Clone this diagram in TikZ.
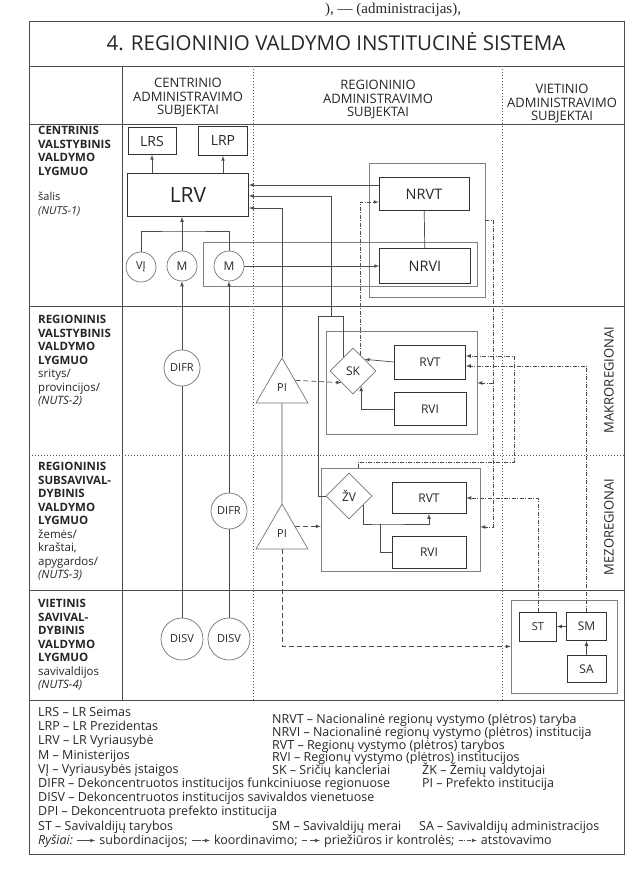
\documentclass[tikz,border=0pt]{standalone}
\usepackage{fontspec}
\setmainfont{Open Sans}
\newfontfamily\pagefont{Liberation Serif}
\usetikzlibrary{calc,positioning,shapes.geometric}

\begin{document}
\begin{tikzpicture}[
  x=1pt, y=-1pt,
  every node/.style={inner sep=1pt, text=black!85},
  frm/.style={draw=black!70, line width=0.8pt},
  conn/.style={draw=black!70, line width=0.7pt},
  subord/.style={conn, -latex},
  coord/.style={conn, dash pattern=on 9pt off 1.5pt, -latex},
  superv/.style={conn, dash pattern=on 5pt off 3pt, -latex},
  repres/.style={conn, dash pattern=on 4pt off 1.5pt on 1pt off 1.5pt, -latex},
  colsep/.style={draw=black!65, line width=0.8pt, dash pattern=on 0.8pt off 2.2pt},
  inst/.style={draw=black!80, line width=0.7pt, inner sep=0pt, font=\fontsize{12}{12}\selectfont},
  grp/.style={draw=black!50, line width=0.7pt, inner sep=0pt},
  circ/.style={circle, draw=black!55, line width=0.7pt, inner sep=0pt, font=\fontsize{11}{11}\selectfont},
  kite/.style={diamond, draw=black!55, line width=0.7pt, inner sep=0pt, minimum width=46pt, minimum height=46pt, font=\fontsize{12}{12}\selectfont},
  pref/.style={regular polygon, regular polygon sides=3, draw=black!55, line width=0.7pt, inner sep=0pt, minimum size=60pt, font=\fontsize{11}{11}\selectfont},
  lvl/.style={align=left, anchor=north west, font=\bfseries\fontsize{11.5}{13.5}\selectfont},
  hdr/.style={align=center, font=\fontsize{13}{13.5}\selectfont},
  leg/.style={anchor=base west, font=\fontsize{12.5}{14}\selectfont},
  rysleg/.style={anchor=base west, font=\fontsize{12.5}{14}\selectfont}
]
\useasboundingbox (0,0) rectangle (630,869);
\node[anchor=base west, font=\pagefont\fontsize{15}{15}\selectfont] (pagetxt) at (324,14) {), — (administracijas),};

% frame and table
\draw[frm] (29,21) rectangle (624,854);
\draw[frm] (29,66) -- (624,66);
\draw[frm] (29,124) -- (624,124);
\draw[frm] (122,66) -- (122,700);
\draw[frm] (29,306) -- (624,306);
\draw[colsep] (29,455) -- (624,455);
\draw[frm] (29,590) -- (624,590);
\draw[frm] (29,700) -- (624,700);
\draw[colsep] (253,66) -- (253,700);
\draw[colsep] (502,66) -- (502,700);

\node[font=\fontsize{20.5}{20.5}\selectfont] (title) at (336,42) {4. REGIONINIO VALDYMO INSTITUCINĖ SISTEMA};
\node[hdr] (hcent) at (188,98) {CENTRINIO\\ADMINISTRAVIMO\\SUBJEKTAI};
\node[hdr] (hreg) at (378,100) {REGIONINIO\\ADMINISTRAVIMO\\SUBJEKTAI};
\node[hdr] (hviet) at (562,104) {VIETINIO\\ADMINISTRAVIMO\\SUBJEKTAI};

\node[lvl] (lvl1) at (37,125) {CENTRINIS\\VALSTYBINIS\\VALDYMO\\LYGMUO};
\node[lvl, font=\fontsize{11}{13.5}\selectfont] (nuts1) at (37,191) {šalis\\\textit{(NUTS-1)}};
\node[lvl] (lvl2) at (37,314) {REGIONINIS\\VALSTYBINIS\\VALDYMO\\LYGMUO\\\textmd{sritys/}\\\textmd{provincijos/}\\\textmd{\textit{(NUTS-2)}}};
\node[lvl] (lvl3) at (37,461) {REGIONINIS\\SUBSAVIVAL-\\DYBINIS\\VALDYMO\\LYGMUO\\\textmd{žemės/}\\\textmd{kraštai,}\\\textmd{apygardos/}\\\textmd{\textit{(NUTS-3)}}};
\node[lvl] (lvl4) at (37,598) {VIETINIS\\SAVIVAL-\\DYBINIS\\VALDYMO\\LYGMUO\\\textmd{savivaldijos}\\\textmd{\textit{(NUTS-4)}}};

\node[rotate=90, font=\fontsize{13}{13}\selectfont] (makro) at (609,380) {MAKROREGIONAI};
\node[rotate=90, font=\fontsize{13}{13}\selectfont] (mezo) at (609,527) {MEZOREGIONAI};

% group boxes
\node[grp, minimum width=116pt, minimum height=134pt] (gnrv) at (427,230) {};
\node[grp, minimum width=274pt, minimum height=44pt] (gmin) at (340,264) {};
\node[grp, minimum width=151pt, minimum height=103pt] (gsk) at (401.5,382.5) {};
\node[grp, minimum width=159pt, minimum height=103pt] (gzv) at (400.5,519.5) {};
\node[grp, minimum width=106pt, minimum height=93pt] (gloc) at (564,646.5) {};

% institutions
\node[inst, minimum width=48pt, minimum height=27pt, font=\fontsize{14}{14}\selectfont] (lrs) at (152,141) {LRS};
\node[inst, minimum width=49pt, minimum height=29pt, font=\fontsize{14}{14}\selectfont] (lrp) at (223,141) {LRP};
\node[inst, minimum width=121pt, minimum height=43pt, font=\fontsize{21}{21}\selectfont] (lrv) at (188,195) {LRV};
\node[circ, minimum size=30pt] (vi) at (141,267) {VĮ};
\node[circ, minimum size=30pt, font=\fontsize{12}{12}\selectfont] (m1) at (182,266) {M};
\node[circ, minimum size=30pt, font=\fontsize{12}{12}\selectfont] (m2) at (229,266) {M};
\node[circ, minimum size=36pt] (difr1) at (182,368) {DIFR};
\node[circ, minimum size=36pt] (difr2) at (229,511) {DIFR};
\node[circ, minimum size=42pt] (disv1) at (182,639) {DISV};
\node[circ, minimum size=42pt] (disv2) at (229,639) {DISV};
\node[pref] (pi1) at (282,388) {PI};
\node[pref] (pi2) at (282,534) {PI};
\node[inst, minimum width=90pt, minimum height=33pt, font=\fontsize{14.5}{14.5}\selectfont] (nrvt) at (424,194) {NRVT};
\node[inst, minimum width=91pt, minimum height=35pt, font=\fontsize{14.5}{14.5}\selectfont] (nrvi) at (425,266) {NRVI};
\node[kite] (sk) at (353,371) {SK};
\node[inst, minimum width=71pt, minimum height=34pt] (rvt1) at (430,362) {RVT};
\node[inst, minimum width=72pt, minimum height=33pt] (rvi1) at (430,409) {RVI};
\node[kite] (zv) at (349,496) {ŽV};
\node[inst, minimum width=74pt, minimum height=31pt] (rvt2) at (429,498) {RVT};
\node[inst, minimum width=74pt, minimum height=32pt] (rvi2) at (429,552) {RVI};
\node[inst, minimum width=37pt, minimum height=29pt, font=\fontsize{11}{11}\selectfont] (st) at (538,626.5) {ST};
\node[inst, minimum width=40pt, minimum height=28pt] (sm) at (586.5,626.5) {SM};
\node[inst, minimum width=39pt, minimum height=27pt] (sa) at (586.5,669) {SA};

% subordination
\coordinate (brk) at (182,231);
\coordinate (lrva) at ($(lrv.east)+(0,-10)$);
\coordinate (lrvb) at ($(lrv.east)+(0,1)$);
\coordinate (lrvc) at ($(lrv.east)+(0,13)$);
\coordinate (tabl) at (318,316);
\coordinate (tabm) at (331,316);
\coordinate (skin) at ($(sk.north)!0.4!(sk.west)$);
\draw[subord] (lrv.north -| lrs) -- (lrs);
\draw[subord] (lrv.north -| lrp) -- (lrp);
\draw[subord] (m1) -- (m1 |- lrv.south);
\draw[conn] (vi) |- (brk) -| (m2);
\draw[subord] (difr1) -- (m1);
\draw[conn] (disv1) -- (difr1);
\draw[subord] (difr2) -- (m2);
\draw[conn] (disv2) -- (difr2);
\draw[subord] (m2) -- (nrvi);
\draw[conn] (nrvt) -- (nrvi);
\draw[subord] (nrvt.west |- lrva) -- (lrva);
\draw[subord] (pi1.corner 1) |- (lrvc);
\draw[conn] (tabl) -- (tabl -| skin) -- (skin);
\draw[conn] (tabl) |- (zv.west);
\draw[subord] (tabm) |- (lrvb);
\draw[conn] (pi2.corner 1) -- (pi1.south);
\draw[subord] (rvt1.west) -- (sk.north east);
\draw[subord] (rvi1.west) -| ($(sk.south)!0.35!(sk.east)$);
\draw[subord] ($(zv.south)!0.6!(zv.east)$) |- (380,524) -| (rvt2.south);
\draw[conn] (rvi2.west) -| (380,524);
\draw[subord] (sm) -- (st);
\draw[subord] (sa) -- (sm);

% supervision
\draw[superv] (pi1.side 3) -- (sk.south west);
\draw[superv] (pi2.side 3) -- (pi2.side 3 -| gzv.west);
\draw[superv] (pi2.south) |- (gloc.west);

% representation
\coordinate (ka) at (493,220);
\coordinate (kb) at (493,383);
\coordinate (kc) at (493,527);
\draw[repres] ($(sk.north)!0.3!(sk.east)$) |- ($(nrvt.west)+(0,8)$);
\draw[repres] (gnrv.east |- ka) -- (ka) -- (kc) -- (kc -| gzv.east);
\draw[repres] (kb) -- (kb -| gsk.east);
\draw[repres] (358,468) |- (514,462) |- ($(rvt1.east)+(0,-6)$);
\draw[repres] (sm) |- ($(rvt1.east)+(0,4)$);
\draw[repres] (st) |- (rvt2.east);

% legend
\node[leg] (lrsl) at (37,716) {LRS -- LR Seimas};
\node[leg] (lrpl) at (37,730) {LRP -- LR Prezidentas};
\node[leg] (lrvl) at (37,744) {LRV -- LR Vyriausybė};
\node[leg] (ml) at (37,759) {M -- Ministerijos};
\node[leg] (vil) at (37,773) {VĮ -- Vyriausybės įstaigos};
\node[leg] (difrl) at (37,787) {DIFR -- Dekoncentruotos institucijos funkciniuose regionuose};
\node[leg] (disvl) at (37,801) {DISV -- Dekoncentruotos institucijos savivaldos vienetuose};
\node[leg] (dpil) at (37,815) {DPI -- Dekoncentruota prefekto institucija};
\node[leg] (stl) at (37,830) {ST -- Savivaldijų tarybos};
\node[leg] (nrvtl) at (271,723) {NRVT -- Nacionalinė regionų vystymo (plėtros) taryba};
\node[leg] (nrvil) at (271,736) {NRVI -- Nacionalinė regionų vystymo (plėtros) institucija};
\node[leg] (rvtl) at (271,749) {RVT -- Regionų vystymo (plėtros) tarybos};
\node[leg] (rvil) at (271,761.5) {RVI -- Regionų vystymo (plėtros) institucijos};
\node[leg] (skl) at (271,774) {SK -- Sričių kancleriai};
\node[leg] (zkl) at (421,774) {ŽK -- Žemių valdytojai};
\node[leg] (pil) at (421,787) {PI -- Prefekto institucija};
\node[leg] (sml) at (271,830) {SM -- Savivaldijų merai};
\node[leg] (sal) at (418,830) {SA -- Savivaldijų administracijos};
\node[rysleg] (rys) at (37,844) {\textit{Ryšiai:}};
\draw[subord] ([xshift=3pt,yshift=3.5pt]rys.base east) -- ++(18,0) coordinate (k1);
\node[rysleg] (t1) at ([xshift=3pt,yshift=-3.5pt]k1) {subordinacijos;};
\draw[coord] ([xshift=3pt,yshift=3.5pt]t1.base east) -- ++(18,0) coordinate (k2);
\node[rysleg] (t2) at ([xshift=3pt,yshift=-3.5pt]k2) {koordinavimo;};
\draw[superv] ([xshift=3pt,yshift=3.5pt]t2.base east) -- ++(18,0) coordinate (k3);
\node[rysleg] (t3) at ([xshift=3pt,yshift=-3.5pt]k3) {priežiūros ir kontrolės;};
\draw[repres] ([xshift=3pt,yshift=3.5pt]t3.base east) -- ++(18,0) coordinate (k4);
\node[rysleg] (t4) at ([xshift=3pt,yshift=-3.5pt]k4) {atstovavimo};
\end{tikzpicture}
\end{document}
